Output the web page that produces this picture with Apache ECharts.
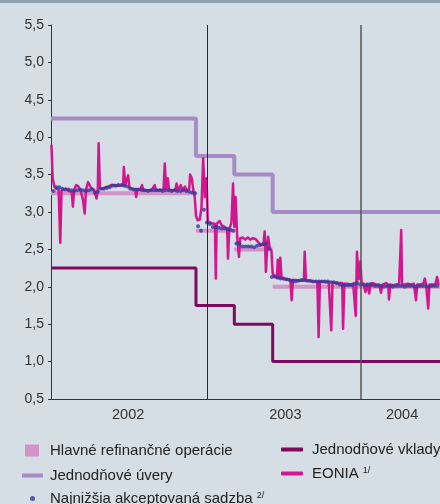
<!DOCTYPE html>
<html>
<head>
<meta charset="utf-8">
<script src="https://cdn.jsdelivr.net/npm/echarts@6/dist/echarts.min.js"></script>
<style>
html,body{margin:0;padding:0;background:#d5dde5;}
#c{width:440px;height:504px;}
</style>
</head>
<body>
<div id="c"></div>
<script>
// ---- axis ----
const xMin = '2001-12-27';
const xMax = '2004-07-07';
const yTicks = [0.5, 1.0, 1.5, 2.0, 2.5, 3.0, 3.5, 4.0, 4.5, 5.0, 5.5];
const xLabels = ['2002', '2003', '2004'];
const xLabelDates = ['2002-06-28', '2003-07-06', '2004-04-08'];
const yearLines = ['2003-01-01', '2004-01-01'];

// ---- ECB key rates (change dates) ----
const rateChangeDates = ['2001-12-27', '2002-12-06', '2003-03-07', '2003-06-06'];
const rateEnd = '2004-07-07';
const mroRates = [3.25, 2.75, 2.50, 2.00];
const lendingRates = [4.25, 3.75, 3.50, 3.00];
const depositRates = [2.25, 1.75, 1.50, 1.00];

// ---- weekly marginal (lowest accepted) rate ----
const minBidStart = '2002-01-02';
const minBidRates = [
  3.28, 3.33, 3.33, 3.31, 3.30, 3.30, 3.29, 3.28, 3.29, 3.30,
  3.29, 3.28, 3.29, 3.30, 3.26, 3.27, 3.31, 3.31, 3.32, 3.33,
  3.35, 3.35, 3.36, 3.36, 3.35, 3.34, 3.31, 3.30, 3.30, 3.30,
  3.29, 3.29, 3.28, 3.29, 3.29, 3.29, 3.29, 3.28, 3.29, 3.29,
  3.28, 3.29, 3.28, 3.28, 3.29, 3.28, 3.27, 3.26, 3.25,
  2.81, 2.75, 3.03, 2.86, 2.84, 2.80, 2.80, 2.79, 2.78, 2.78,
  2.77, 2.76, 2.75, 2.58, 2.58, 2.54, 2.54, 2.54, 2.54, 2.53,
  2.55, 2.56, 2.57, 2.58, 2.51, 2.13, 2.14, 2.12, 2.11, 2.11,
  2.10, 2.09, 2.08, 2.07, 2.08, 2.09, 2.09, 2.08, 2.08, 2.07,
  2.07, 2.07, 2.07, 2.07, 2.07, 2.06, 2.06, 2.05, 2.03, 2.02,
  2.02, 2.02, 2.02, 2.04, 2.05, 2.03, 2.03, 2.02, 2.03, 2.02,
  2.01, 2.01, 2.01, 2.00, 2.01, 2.01, 2.00, 2.01, 2.01, 2.01,
  2.00, 2.01, 2.01, 2.01, 2.00, 2.01, 2.01, 2.01, 2.00, 2.01, 2.01, 2.01
];

// ---- EONIA ----
const eoniaDates = [
  '2001-12-28','2001-12-31','2002-01-04','2002-01-09','2002-01-14','2002-01-17','2002-01-18','2002-01-21','2002-01-26','2002-02-01',
  '2002-02-07','2002-02-14','2002-02-17','2002-02-20','2002-02-25','2002-03-02','2002-03-08','2002-03-13','2002-03-17','2002-03-20',
  '2002-03-25','2002-03-28','2002-04-01','2002-04-08','2002-04-14','2002-04-17','2002-04-19','2002-04-22','2002-04-28','2002-05-05',
  '2002-05-12','2002-05-19','2002-05-26','2002-06-02','2002-06-10','2002-06-16','2002-06-18','2002-06-21','2002-06-25','2002-06-28',
  '2002-07-01','2002-07-08','2002-07-15','2002-07-17','2002-07-20','2002-07-27','2002-07-31','2002-08-03','2002-08-12','2002-08-22',
  '2002-08-30','2002-09-02','2002-09-10','2002-09-20','2002-09-23','2002-09-26','2002-09-30','2002-10-03','2002-10-10','2002-10-18',
  '2002-10-21','2002-10-24','2002-10-31','2002-11-03','2002-11-10','2002-11-13','2002-11-20','2002-11-22','2002-11-26','2002-11-29',
  '2002-12-03','2002-12-06','2002-12-10','2002-12-15','2002-12-19','2002-12-23','2002-12-27','2002-12-31',
  '2003-01-03','2003-01-08','2003-01-13','2003-01-20','2003-01-22','2003-01-24','2003-01-31','2003-02-05','2003-02-12','2003-02-18',
  '2003-02-20','2003-02-23','2003-02-28','2003-03-04','2003-03-07','2003-03-10','2003-03-14','2003-03-18','2003-03-21','2003-03-27',
  '2003-04-02','2003-04-08','2003-04-14','2003-04-20','2003-04-26','2003-05-02','2003-05-09','2003-05-15','2003-05-18','2003-05-21',
  '2003-05-24','2003-05-26','2003-05-30','2003-06-03','2003-06-06','2003-06-10','2003-06-16','2003-06-18','2003-06-21','2003-06-24',
  '2003-06-27','2003-07-03','2003-07-10','2003-07-18','2003-07-21','2003-07-24','2003-07-31','2003-08-07','2003-08-14','2003-08-19',
  '2003-08-21','2003-08-24','2003-08-31','2003-09-07','2003-09-14','2003-09-20','2003-09-23','2003-09-26','2003-10-03','2003-10-10',
  '2003-10-17','2003-10-21','2003-10-23','2003-10-26','2003-11-02','2003-11-09','2003-11-18','2003-11-20','2003-11-23','2003-11-30',
  '2003-12-07','2003-12-14','2003-12-18','2003-12-20','2003-12-23','2003-12-27','2003-12-31',
  '2004-01-03','2004-01-08','2004-01-12','2004-01-16','2004-01-21','2004-01-24','2004-01-30','2004-02-06','2004-02-14','2004-02-18',
  '2004-02-21','2004-03-01','2004-03-06','2004-03-08','2004-03-11','2004-03-18','2004-03-25','2004-04-01','2004-04-05','2004-04-06',
  '2004-04-08','2004-04-15','2004-04-22','2004-04-29','2004-05-06','2004-05-09','2004-05-11','2004-05-14','2004-05-21','2004-05-28',
  '2004-06-01','2004-06-04','2004-06-09','2004-06-12','2004-06-19','2004-06-26','2004-06-30','2004-07-03','2004-07-06'
];
const eoniaRates = [
  3.90, 3.45, 3.34, 3.31, 3.30, 3.28, 2.59, 3.29, 3.30, 3.31,
  3.28, 3.27, 3.07, 3.30, 3.36, 3.34, 3.27, 3.16, 2.98, 3.30,
  3.40, 3.42, 3.32, 3.30, 3.18, 3.30, 3.92, 3.33, 3.31, 3.33,
  3.34, 3.36, 3.36, 3.35, 3.35, 3.36, 3.60, 3.36, 3.35, 3.49,
  3.33, 3.31, 3.30, 3.20, 3.30, 3.30, 3.36, 3.29, 3.29, 3.29,
  3.36, 3.29, 3.29, 3.30, 3.65, 3.31, 3.45, 3.30, 3.29, 3.29,
  3.38, 3.29, 3.36, 3.29, 3.34, 3.29, 3.31, 3.50, 3.45, 3.32,
  3.20, 2.95, 2.89, 2.90, 3.05, 3.72, 3.20, 3.45,
  2.87, 2.86, 2.85, 2.84, 2.11, 2.84, 2.88, 2.82, 2.80, 2.78,
  2.38, 2.78, 2.85, 3.38, 2.80, 3.20, 2.65, 2.40, 2.65, 2.66,
  2.63, 2.66, 2.63, 2.65, 2.64, 2.60, 2.56, 2.56, 2.74, 2.20,
  2.55, 2.67, 2.52, 2.48, 2.18, 2.13, 2.12, 2.36, 2.12, 2.39,
  2.12, 2.10, 2.10, 2.09, 1.82, 2.09, 2.09, 2.08, 2.08, 2.08,
  2.47, 2.08, 2.08, 2.07, 2.07, 2.07, 1.33, 2.07, 2.07, 2.06,
  2.06, 2.06, 1.42, 2.06, 2.05, 2.05, 2.05, 1.44, 2.04, 2.04,
  2.03, 2.04, 2.03, 1.61, 2.47, 2.10, 2.34,
  2.05, 2.04, 1.93, 2.04, 1.91, 2.04, 2.05, 2.03, 2.03, 1.92,
  2.03, 2.05, 2.03, 1.83, 2.03, 2.02, 2.03, 2.04, 2.04, 2.76,
  2.03, 2.03, 2.04, 2.03, 2.04, 2.03, 1.82, 2.03, 2.03, 2.04,
  2.11, 2.03, 1.71, 2.03, 2.03, 2.03, 2.13, 2.04, 2.04
];

// ---- names ----
const nMRO = 'Hlavné refinančné operácie';
const nLend = 'Jednodňové úvery';
const nMin = 'Najnižšia akceptovaná sadzba';
const nDep = 'Jednodňové vklady';
const nEonia = 'EONIA';

// ---- helpers ----
const DAY = 86400000;
function ms(d) { return Date.parse(d + 'T00:00:00Z'); }
function stepData(rates) {
  const d = rates.map((v, i) => [ms(rateChangeDates[i]), v]);
  d.push([ms(rateEnd), rates[rates.length - 1]]);
  return d;
}
function segData(rates) {
  const d = [];
  rates.forEach((v, i) => {
    const end = i + 1 < rates.length ? rateChangeDates[i + 1] : rateEnd;
    d.push([ms(rateChangeDates[i]), v]);
    d.push([ms(end), v]);
    d.push([ms(end), '-']);
  });
  return d;
}
const minStartMs = ms(minBidStart);
const minBidData = minBidRates.map((v, i) => [minStartMs + i * 7 * DAY, v]);
const eoniaData = eoniaDates.map((d, i) => [ms(d), eoniaRates[i]]);
const labelMs = xLabelDates.map(ms);

const font = 'Liberation Sans, Arial, sans-serif';
const chart = echarts.init(document.getElementById('c'), null, { renderer: 'canvas' });

const legendBase = {
  padding: 0,
  selectedMode: false,
  orient: 'horizontal',
  textStyle: {
    fontFamily: font, fontSize: 15, color: '#222',
    rich: { sup: { fontFamily: font, fontSize: 9, color: '#222', verticalAlign: 'top', lineHeight: 10 } }
  },
  formatter: function (name) {
    if (name === nEonia) return name + ' {sup|1/}';
    if (name === nMin) return name + ' {sup|2/}';
    return name;
  }
};
function lg(name, icon, left, top, w, h, pad) {
  return Object.assign({}, legendBase, {
    data: [{ name: name, icon: icon }],
    left: left, top: top, itemWidth: w, itemHeight: h,
    textStyle: Object.assign({}, legendBase.textStyle, { padding: [0, 0, 0, pad] })
  });
}

chart.setOption({
  animation: false,
  backgroundColor: '#d5dde5',
  graphic: [{ type: 'rect', shape: { x: 0, y: 0, width: 440, height: 3 }, style: { fill: '#8ca1ae' } }],
  grid: { left: 51, right: 0, top: 25, bottom: 105, containLabel: false },
  xAxis: {
    type: 'value',
    min: ms(xMin), max: ms(xMax),
    axisLine: { show: true, onZero: false, lineStyle: { color: '#333', width: 1 } },
    axisTick: { show: false },
    splitLine: { show: false },
    axisLabel: {
      customValues: labelMs,
      formatter: function (v) {
        let best = 0;
        labelMs.forEach((m, i) => { if (Math.abs(m - v) < Math.abs(labelMs[best] - v)) best = i; });
        return xLabels[best];
      },
      fontFamily: font, fontSize: 14.5, color: '#333', margin: 8
    }
  },
  yAxis: {
    type: 'value',
    min: yTicks[0], max: yTicks[yTicks.length - 1], interval: 0.5,
    axisLine: { show: true, lineStyle: { color: '#333', width: 1 } },
    axisTick: { show: true, length: 3, lineStyle: { color: '#333' } },
    splitLine: { show: false },
    axisLabel: {
      formatter: v => v.toFixed(1).replace('.', ','),
      fontFamily: font, fontSize: 14, color: '#333', margin: 7
    }
  },
  legend: [
    lg(nMRO, 'rect', 25, 443, 14, 12, 6),
    lg(nLend, 'roundRect', 22, 468, 21, 4, 2),
    lg(nMin, 'circle', 30, 491, 5, 5, 10),
    lg(nDep, 'roundRect', 281, 442, 22, 4, 4),
    lg(nEonia, 'roundRect', 281, 466, 22, 4, 4)
  ],
  series: [
    {
      name: nMRO, type: 'line', data: segData(mroRates), showSymbol: false, symbol: 'none',
      color: '#d294c6', lineStyle: { color: '#d294c6', width: 4, cap: 'butt' }, z: 1, connectNulls: false,
      markLine: {
        silent: true, symbol: ['none', 'none'], label: { show: false },
        data: [
          { xAxis: ms(yearLines[0]), lineStyle: { color: '#2b2b2b', width: 1, type: 'solid' } },
          { xAxis: ms(yearLines[1]), lineStyle: { color: '#555', width: 1.5, type: 'solid' } }
        ]
      }
    },
    {
      name: nLend, type: 'line', step: 'end', data: stepData(lendingRates), showSymbol: false, symbol: 'none',
      color: '#a68cc5', lineStyle: { color: '#a68cc5', width: 4 }, z: 2
    },
    {
      name: nDep, type: 'line', step: 'end', data: stepData(depositRates), showSymbol: false, symbol: 'none',
      color: '#7e0a5c', lineStyle: { color: '#7e0a5c', width: 3 }, z: 2
    },
    {
      name: nEonia, type: 'line', data: eoniaData, showSymbol: false, symbol: 'none',
      color: '#d3168f', lineStyle: { color: '#d3168f', width: 2.5, join: 'round' }, z: 3
    },
    {
      name: nMin, type: 'scatter', data: minBidData, symbol: 'circle', symbolSize: 4,
      color: '#37399a', itemStyle: { color: '#37399a' }, z: 4
    }
  ]
});
</script>
</body>
</html>
